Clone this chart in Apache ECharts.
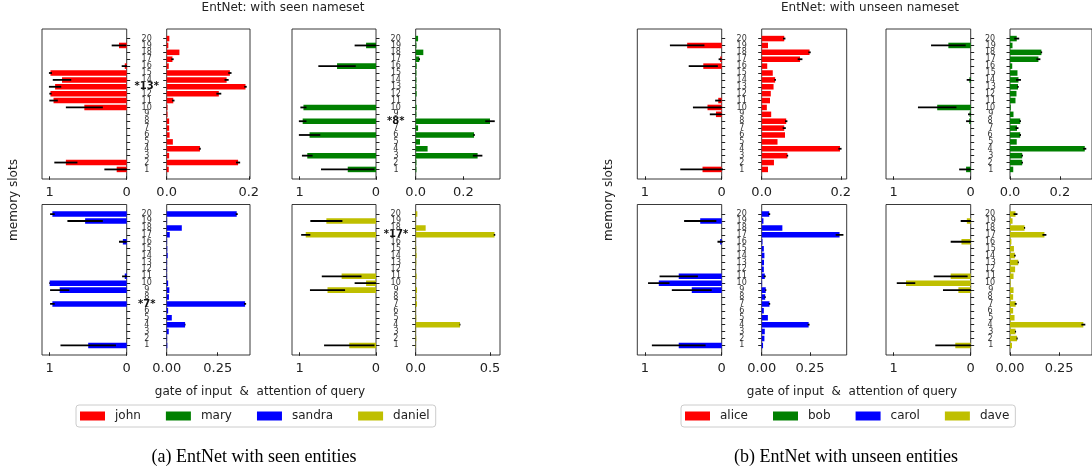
<!DOCTYPE html>
<html><head><meta charset="utf-8">
<script src="https://cdn.jsdelivr.net/npm/echarts@6/dist/echarts.min.js"></script>
<style>html,body{margin:0;padding:0;background:#fff}#c{width:1092px;height:471px}</style>
</head><body><div id="c"></div>
<script>
// memory slot numbers (tick labels)
const slots = [1,2,3,4,5,6,7,8,9,10,11,12,13,14,15,16,17,18,19,20];

// (a) seen entities — values listed for slot 1..20
const johnGate    = [0.13,0.79,0,0,0,0,0,0,0,0.55,0.95,0.99,0.93,0.84,0.99,0.025,0,0,0.10,0];
const johnGateErr = [0.16,0.15,0,0,0,0,0,0,0,0.24,0.055,0.015,0.08,0.12,0.02,0.04,0,0,0.095,0];
const johnAttn    = [0.005,0.174,0.006,0.081,0.015,0.007,0.006,0.006,0.002,0.002,0.016,0.127,0.192,0.146,0.154,0.005,0.014,0.031,0.004,0.0065];
const johnAttnErr = [0,0.005,0,0.002,0,0,0,0,0,0,0.003,0.006,0.003,0.005,0.004,0,0.003,0,0,0];

const maryGate    = [0.37,0,0.90,0,0,0.87,0,0.96,0,0.95,0,0,0,0,0,0.51,0,0,0.13,0];
const maryGateErr = [0.35,0,0.07,0,0,0.14,0,0.05,0,0.04,0,0,0,0,0,0.245,0,0,0.15,0];
const maryAttn    = [0.003,0.003,0.26,0.05,0.018,0.245,0.01,0.312,0.003,0.004,0.001,0.004,0.003,0.003,0.003,0.004,0.015,0.032,0.003,0.01];
const maryAttnErr = [0,0,0.02,0,0,0.003,0,0.02,0,0,0,0,0,0,0,0,0.003,0,0,0];

const sandraGate    = [0.50,0,0,0,0,0,0.965,0,0.87,1.0,0.025,0,0,0,0,0.05,0,0,0.54,0.965];
const sandraGateErr = [0.36,0,0,0,0,0,0.03,0,0.125,0.005,0.035,0,0,0,0,0.05,0,0,0.23,0.03];
const sandraAttn    = [0.003,0.002,0.01,0.09,0.025,0.007,0.384,0.011,0.013,0.007,0.002,0.002,0.002,0.005,0.003,0.002,0.015,0.074,0.002,0.343];
const sandraAttnErr = [0,0,0,0.002,0,0,0.005,0,0,0,0,0,0,0,0,0,0,0,0,0.005];

const danielGate    = [0.35,0,0,0,0,0,0,0,0.635,0.13,0.45,0,0,0,0,0,0.92,0,0.65,0];
const danielGateErr = [0.33,0,0,0,0,0,0,0,0.23,0.15,0.26,0,0,0,0,0,0.06,0,0.21,0];
const danielAttn    = [0.002,0.004,0.002,0.298,0.004,0.002,0.009,0.006,0.009,0.002,0.006,0.002,0.004,0.006,0.004,0.002,0.53,0.067,0.002,0.011];
const danielAttnErr = [0,0,0,0.003,0,0,0,0,0,0,0,0,0,0,0,0,0.005,0,0,0];

// (b) unseen entities
const aliceGate    = [0.25,0,0,0,0,0,0,0,0.075,0.185,0.045,0,0,0,0,0.24,0.02,0,0.45,0];
const aliceGateErr = [0.29,0,0,0,0,0,0,0,0.08,0.19,0.04,0,0,0,0,0.19,0.02,0,0.225,0];
const aliceAttn    = [0.016,0.031,0.065,0.198,0.04,0.059,0.057,0.062,0.024,0.013,0.021,0.023,0.03,0.034,0.028,0.014,0.097,0.121,0.016,0.057];
const aliceAttnErr = [0,0,0.002,0.004,0,0,0.004,0.003,0,0,0,0,0,0.002,0,0,0.006,0.003,0,0.003];

const bobGate    = [0.06,0,0,0,0,0,0,0.02,0.015,0.435,0,0,0,0.017,0,0,0,0,0.29,0];
const bobGateErr = [0.09,0,0,0,0,0,0,0.04,0.02,0.25,0,0,0,0.035,0,0,0,0,0.225,0];
const bobAttn    = [0.013,0.049,0.049,0.30,0.027,0.041,0.028,0.041,0.014,0.003,0.022,0.026,0.032,0.034,0.03,0.009,0.114,0.126,0.01,0.027];
const bobAttnErr = [0,0.003,0.003,0.006,0,0.003,0.006,0.003,0,0,0,0,0.003,0.01,0,0,0.008,0.003,0,0.01];

const carolGate    = [0.56,0,0,0,0,0,0,0,0.39,0.82,0.56,0,0,0,0,0.02,0,0,0.28,0];
const carolGateErr = [0.35,0,0,0,0,0,0,0,0.26,0.14,0.25,0,0,0,0,0.035,0,0,0.21,0];
const carolAttn    = [0.007,0.014,0.016,0.243,0.032,0.011,0.04,0.018,0.021,0.002,0.016,0.011,0.012,0.014,0.011,0.004,0.403,0.107,0.009,0.039];
const carolAttnErr = [0,0,0,0.005,0,0,0.004,0.003,0.003,0,0.005,0,0,0,0,0,0.02,0,0,0.005];

const daveGate    = [0.20,0,0,0,0,0,0,0,0.16,0.84,0.26,0,0,0,0,0.12,0,0,0.05,0];
const daveGateErr = [0.26,0,0,0,0,0,0,0,0.20,0.12,0.22,0,0,0,0,0.14,0,0,0.08,0];
const daveAttn    = [0.01,0.036,0.028,0.373,0.023,0.016,0.029,0.016,0.018,0.003,0.018,0.026,0.042,0.025,0.02,0.007,0.175,0.074,0.013,0.028];
const daveAttnErr = [0,0.003,0.003,0.01,0,0,0.005,0,0,0,0,0,0.003,0.004,0,0,0.01,0.003,0,0.01];

const gateTicks = [0, 1];

const panels = [
  {name:'john',   color:'#ff0000', gate:johnGate,   gErr:johnGateErr,   attn:johnAttn,   aErr:johnAttnErr,   query:13,   gx:42,    gw:84.7, ax:166.7, aw:83.3, top:29,    h:150,   aMax:0.203, aTicks:[0,0.2],  dec:1},
  {name:'mary',   color:'#008000', gate:maryGate,   gErr:maryGateErr,   attn:maryAttn,   aErr:maryAttnErr,   query:8,    gx:292,   gw:84,   ax:415.7, aw:84.3, top:29,    h:150,   aMax:0.354, aTicks:[0,0.2],  dec:1},
  {name:'sandra', color:'#0000ff', gate:sandraGate, gErr:sandraGateErr, attn:sandraAttn, aErr:sandraAttnErr, query:7,    gx:42,    gw:84.7, ax:166.7, aw:83.3, top:204.5, h:150.5, aMax:0.408, aTicks:[0,0.25], dec:2},
  {name:'daniel', color:'#bfbf00', gate:danielGate, gErr:danielGateErr, attn:danielAttn, aErr:danielAttnErr, query:17,   gx:292,   gw:84,   ax:415.7, aw:84.3, top:204.5, h:150.5, aMax:0.567, aTicks:[0,0.5],  dec:1},
  {name:'alice',  color:'#ff0000', gate:aliceGate,  gErr:aliceGateErr,  attn:aliceAttn,  aErr:aliceAttnErr,  query:null, gx:637.3, gw:84.4, ax:761.7, aw:85,   top:29,    h:150,   aMax:0.215, aTicks:[0,0.2],  dec:1},
  {name:'bob',    color:'#008000', gate:bobGate,    gErr:bobGateErr,    attn:bobAttn,    aErr:bobAttnErr,    query:null, gx:886,   gw:84.7, ax:1010,  aw:85,   top:29,    h:150,   aMax:0.329, aTicks:[0,0.2],  dec:1},
  {name:'carol',  color:'#0000ff', gate:carolGate,  gErr:carolGateErr,  attn:carolAttn,  aErr:carolAttnErr,  query:null, gx:637.3, gw:84.4, ax:761.7, aw:85,   top:204.5, h:150.5, aMax:0.44,  aTicks:[0,0.25], dec:2},
  {name:'dave',   color:'#bfbf00', gate:daveGate,   gErr:daveGateErr,   attn:daveAttn,   aErr:daveAttnErr,   query:null, gx:886,   gw:84.7, ax:1010,  aw:85,   top:204.5, h:150.5, aMax:0.417, aTicks:[0,0.25], dec:2}
];

const FONT = 'DejaVu Sans';
const AX = '#222';
const oddSlots = slots.filter(s => s % 2 === 1);
const evenSlots = slots.filter(s => s % 2 === 0);

function renderBar(params, api) {
  const y = api.value(0), v = api.value(1), e = api.value(2);
  const p0 = api.coord([0, y]);
  const p1 = api.coord([v, y]);
  const h = api.size([0, 0.8])[1];
  const children = [{
    type: 'rect',
    shape: {x: Math.min(p0[0], p1[0]), y: p0[1] - h / 2, width: Math.abs(p1[0] - p0[0]), height: h},
    style: {fill: api.visual('color')}
  }];
  if (e > 0) {
    const pa = api.coord([v - e, y]), pb = api.coord([v + e, y]);
    children.push({type: 'line', shape: {x1: pa[0], y1: pa[1], x2: pb[0], y2: pb[1]},
      style: {stroke: '#000', lineWidth: 1.8}});
  }
  return {type: 'group', children};
}

const grid = [], xAxis = [], yAxis = [], series = [];
panels.forEach((p, k) => {
  const gi = 2 * k, ai = 2 * k + 1;
  grid.push({left: p.gx, top: p.top, width: p.gw, height: p.h, show: true, borderColor: AX, borderWidth: 0.9, backgroundColor: 'transparent'});
  grid.push({left: p.ax, top: p.top, width: p.aw, height: p.h, show: true, borderColor: AX, borderWidth: 0.9, backgroundColor: 'transparent'});
  const xCommon = {type: 'value', axisLine: {show: false}, splitLine: {show: false},
    axisTick: {show: true, length: 3.5, lineStyle: {color: AX}},
    axisLabel: {fontFamily: FONT, fontSize: 13, color: AX, margin: 7, showMinLabel: true, showMaxLabel: true}};
  xAxis.push(Object.assign({}, xCommon, {gridIndex: gi, min: 0, max: 1.1, inverse: true,
    axisTick: Object.assign({}, xCommon.axisTick, {customValues: gateTicks}),
    axisLabel: Object.assign({}, xCommon.axisLabel, {customValues: gateTicks, formatter: v => String(v)})}));
  xAxis.push(Object.assign({}, xCommon, {gridIndex: ai, min: 0, max: p.aMax,
    axisTick: Object.assign({}, xCommon.axisTick, {customValues: p.aTicks}),
    axisLabel: Object.assign({}, xCommon.axisLabel, {customValues: p.aTicks, formatter: v => v.toFixed(p.dec)})}));
  const yCommon = {type: 'value', min: -0.39, max: 21.39, axisLine: {show: false}, splitLine: {show: false}};
  const slotLabel = vals => ({show: true, customValues: vals, showMinLabel: true, showMaxLabel: true,
    align: 'center', margin: 20, fontFamily: FONT, fontSize: 8, color: '#333',
    formatter: v => (v === p.query ? '{b|*' + v + '*}' : String(v)),
    rich: {b: {fontWeight: 'bold', fontSize: 10, fontFamily: FONT, color: '#111'}}});
  // odd slot labels from the left grid's axis, even ones from the right grid's axis (both centred in the gap)
  yAxis.push(Object.assign({}, yCommon, {gridIndex: gi, position: 'right',
    axisTick: {show: true, length: 3.5, customValues: slots, lineStyle: {color: AX}},
    axisLabel: slotLabel(oddSlots)}));
  yAxis.push(Object.assign({}, yCommon, {gridIndex: ai, position: 'left',
    axisTick: {show: true, length: 3.5, customValues: slots, lineStyle: {color: AX}},
    axisLabel: slotLabel(evenSlots)}));
  series.push({type: 'custom', name: p.name, xAxisIndex: gi, yAxisIndex: gi, clip: true,
    itemStyle: {color: p.color}, renderItem: renderBar, encode: {x: 1, y: 0},
    data: slots.map((s, i) => [s, p.gate[i], p.gErr[i]])});
  series.push({type: 'custom', name: p.name, xAxisIndex: ai, yAxisIndex: ai, clip: true,
    itemStyle: {color: p.color}, renderItem: renderBar, encode: {x: 1, y: 0},
    data: slots.map((s, i) => [s, p.attn[i], p.aErr[i]])});
});

const legendBase = {orient: 'horizontal', top: 405, icon: 'rect', itemWidth: 25, itemHeight: 9, itemGap: 25,
  selectedMode: false, borderColor: '#cccccc', borderWidth: 1, borderRadius: 3, padding: [5, 6, 5, 4],
  textStyle: {fontFamily: FONT, fontSize: 12, color: '#222', padding: [0, 0, 0, 5]}};

const txt = (x, y, text, extra) => ({type: 'text', x, y, silent: true,
  style: Object.assign({text, align: 'center', verticalAlign: 'middle', font: '12px "DejaVu Sans"', fill: '#222'}, extra || {})});

const option = {
  animation: false,
  backgroundColor: '#ffffff',
  grid, xAxis, yAxis, series,
  legend: [
    Object.assign({}, legendBase, {left: 76, data: ['john', 'mary', 'sandra', 'daniel']}),
    Object.assign({}, legendBase, {left: 681, data: ['alice', 'bob', 'carol', 'dave']})
  ],
  graphic: [
    txt(283, 8, 'EntNet: with seen nameset'),
    txt(870, 8, 'EntNet: with unseen nameset'),
    Object.assign(txt(14, 200, 'memory slots'), {rotation: Math.PI / 2}),
    Object.assign(txt(609, 200, 'memory slots'), {rotation: Math.PI / 2}),
    txt(260, 392, 'gate of input  &  attention of query'),
    txt(852, 392, 'gate of input  &  attention of query'),
    txt(254, 457, '(a) EntNet with seen entities', {font: '18px "Liberation Serif"', fill: '#000'}),
    txt(846, 457, '(b) EntNet with unseen entities', {font: '18px "Liberation Serif"', fill: '#000'})
  ]
};

const chart = echarts.init(document.getElementById('c'), null, {renderer: 'canvas'});
chart.setOption(option);
</script>
</body></html>
